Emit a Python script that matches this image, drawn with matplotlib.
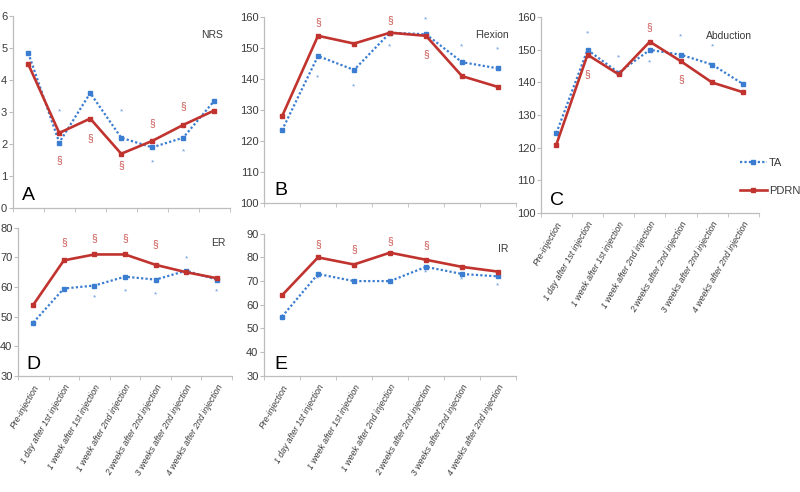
import matplotlib
matplotlib.use("Agg")
import matplotlib.pyplot as plt
from matplotlib.ticker import FixedLocator, NullFormatter

plt.rcParams["font.family"] = ["Liberation Sans", "DejaVu Sans"]

stages = ["Pre-injection", "1 day after 1st injection", "1 week after 1st injection",
          "1 week after 2nd injection", "2 weeks after 2nd injection",
          "3 weeks after 2nd injection", "4 weeks after 2nd injection"]

nrs_ta = [4.85, 2.05, 3.6, 2.2, 1.9, 2.2, 3.35]
nrs_pdrn = [4.5, 2.35, 2.8, 1.7, 2.1, 2.6, 3.05]
flex_ta = [123.5, 147.5, 143, 155, 154.5, 145.5, 143.5]
flex_pdrn = [128, 154, 151.5, 155, 154, 141, 137.5]
abd_ta = [124.5, 150, 143, 150, 148.5, 145.5, 139.5]
abd_pdrn = [121, 148.5, 142.5, 152.5, 146.5, 140, 137]
er_ta = [48, 59.5, 60.5, 63.5, 62.5, 65.5, 62.5]
er_pdrn = [54, 69, 71, 71, 67.5, 65, 63]
ir_ta = [55, 73, 70, 70, 76, 73, 72]
ir_pdrn = [64, 80, 77, 82, 79, 76, 74]

# significance marks (index, y)
nrs_ta_sig = [(1, 3.0), (3, 3.0), (4, 1.4), (5, 1.75)]
nrs_pdrn_sig = [(1, 1.5), (2, 2.2), (3, 1.35), (4, 2.65), (5, 3.2)]
flex_ta_sig = [(1, 140.5), (2, 137.5), (3, 150.5), (4, 159), (5, 150.5), (6, 149.5)]
flex_pdrn_sig = [(1, 158.5), (3, 159), (4, 148)]
abd_ta_sig = [(1, 155), (2, 147.5), (3, 146), (4, 154), (5, 151)]
abd_pdrn_sig = [(1, 142.5), (3, 157), (4, 141)]
er_ta_sig = [(2, 56.5), (3, 58.5), (4, 57.5), (5, 69.5), (6, 58.5)]
er_pdrn_sig = [(1, 75), (2, 76.5), (3, 76.5), (4, 74.5)]
ir_ta_sig = [(1, 71), (4, 73.5), (5, 70.5), (6, 68)]
ir_pdrn_sig = [(1, 85.5), (2, 83.5), (3, 87), (4, 85)]

blue = "#3b7dd0"
red = "#c0332e"
grey = "#bdbdbd"
txt = "#3a3a3a"

fig = plt.figure(figsize=(8, 4.92), dpi=100)


def panel(rect, ta, pdrn, ta_sig, pdrn_sig, ylim, step, title, letter, labels):
    ax = fig.add_axes(rect)
    x = list(range(len(stages)))
    ax.plot(x, ta, color=blue, lw=1.6, ls=(0, (1, 1)), marker="s", ms=3.5, label="TA", zorder=3)
    ax.plot(x, pdrn, color=red, lw=1.9, marker="s", ms=3, label="PDRN", zorder=4)
    for i, y in ta_sig:
        ax.text(i, y, "*", color=blue, fontsize=6, ha="center", va="center", alpha=0.8)
    for i, y in pdrn_sig:
        ax.text(i, y, "§", color=red, fontsize=7.5, ha="center", va="center", alpha=0.85)
    ax.set_xlim(-0.5, 6.5)
    ax.set_ylim(*ylim)
    ax.set_yticks(range(ylim[0], ylim[1] + 1, step))
    for s in ["top", "right"]:
        ax.spines[s].set_visible(False)
    for s in ["left", "bottom"]:
        ax.spines[s].set_color(grey)
        ax.spines[s].set_linewidth(0.9)
    ax.tick_params(axis="y", length=3, color=grey, labelsize=8, labelcolor=txt, pad=1)
    ax.xaxis.set_minor_locator(FixedLocator([i - 0.5 for i in range(8)]))
    ax.xaxis.set_minor_formatter(NullFormatter())
    ax.tick_params(axis="x", which="minor", length=3, color=grey)
    ax.set_xticks(x)
    ax.tick_params(axis="x", which="major", length=0, pad=5)
    if labels:
        ax.set_xticklabels(stages, rotation=60, ha="right", va="top",
                           rotation_mode="anchor", fontsize=6.3, style="italic", color=txt)
    else:
        ax.set_xticklabels([])
    ax.text(0.97, 0.93, title, transform=ax.transAxes, ha="right", va="top",
            fontsize=7.5, color=txt)
    ax.text(0.04, 0.02, letter, transform=ax.transAxes, ha="left", va="bottom",
            fontsize=14, color="black")
    return ax


panel([0.016, 0.577, 0.271, 0.390], nrs_ta, nrs_pdrn, nrs_ta_sig, nrs_pdrn_sig,
      (0, 6), 1, "NRS", "A", False)
panel([0.33, 0.587, 0.315, 0.378], flex_ta, flex_pdrn, flex_ta_sig, flex_pdrn_sig,
      (100, 160), 10, "Flexion", "B", False)
ax_c = panel([0.676, 0.567, 0.2725, 0.398], abd_ta, abd_pdrn, abd_ta_sig, abd_pdrn_sig,
             (100, 160), 10, "Abduction", "C", True)
panel([0.0225, 0.236, 0.2675, 0.301], er_ta, er_pdrn, er_ta_sig, er_pdrn_sig,
      (30, 80), 10, "ER", "D", True)
panel([0.33, 0.236, 0.315, 0.289], ir_ta, ir_pdrn, ir_ta_sig, ir_pdrn_sig,
      (30, 90), 10, "IR", "E", True)

h, l = ax_c.get_legend_handles_labels()
fig.legend(h, l, loc="upper left", bbox_to_anchor=(0.925, 1 - 158 / 492), frameon=False,
           fontsize=8, handlelength=2.4, handletextpad=0.2, labelspacing=1.6,
           borderaxespad=0, borderpad=0, labelcolor=txt)

fig.savefig("out.png", dpi=100, facecolor="white")
